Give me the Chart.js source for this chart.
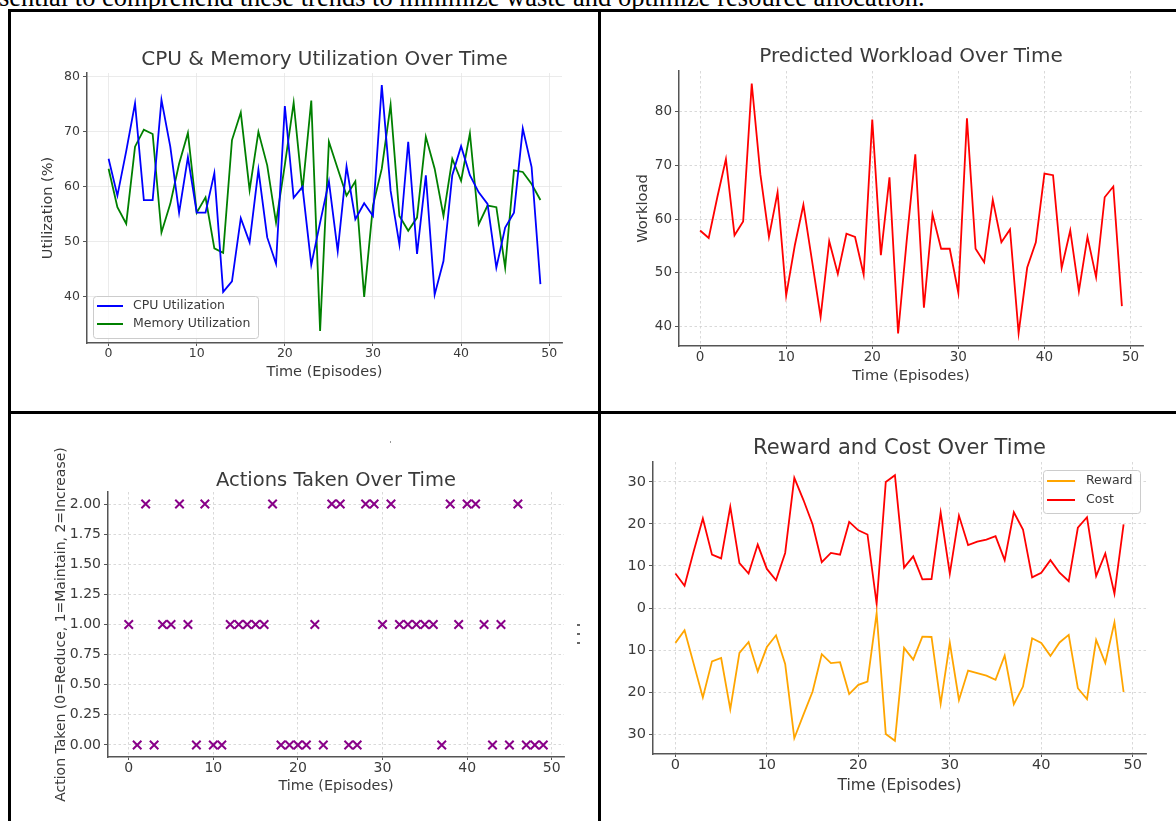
<!DOCTYPE html>
<html><head><meta charset="utf-8">
<script src="https://cdn.jsdelivr.net/npm/chart.js@4/dist/chart.umd.min.js"></script>
<style>
html,body{margin:0;padding:0;background:#fff;overflow:hidden;width:1176px;height:821px;}
#page{position:relative;width:1176px;height:821px;overflow:hidden;background:#fff;}
.intro{position:absolute;left:-1px;top:-18px;font-family:"Liberation Serif","Times New Roman",serif;font-size:26.5px;line-height:30px;white-space:nowrap;color:#000;}
.rule{position:absolute;background:#000;}
.dot{position:absolute;background:#666;width:2px;height:2px;}
canvas{position:absolute;}
</style></head><body>
<div id="page">
<div class="intro">sential to comprehend these trends to minimize waste and optimize resource allocation.</div>
<canvas id="c1" width="586" height="399" style="left:12px;top:12px"></canvas>
<canvas id="c2" width="575" height="399" style="left:601px;top:12px"></canvas>
<canvas id="c3" width="586" height="407" style="left:12px;top:414px"></canvas>
<canvas id="c4" width="575" height="407" style="left:601px;top:414px"></canvas>
<div class="dot" style="left:577px;top:624px;width:3px"></div>
<div class="dot" style="left:577px;top:633px;width:3px"></div>
<div class="dot" style="left:577px;top:642px;width:3px"></div>
<div class="dot" style="left:390px;top:441px;width:1px;height:2px;background:#999"></div>
<div class="rule" style="left:8px;top:9px;width:1190px;height:3px"></div>
<div class="rule" style="left:8px;top:9px;width:3px;height:830px"></div>
<div class="rule" style="left:598px;top:9px;width:3px;height:830px"></div>
<div class="rule" style="left:8px;top:411px;width:1190px;height:3px"></div>
</div>
<script>
// ---------- data ----------
const episodes = [0,1,2,3,4,5,6,7,8,9,10,11,12,13,14,15,16,17,18,19,20,21,22,23,24,25,26,27,28,29,30,31,32,33,34,35,36,37,38,39,40,41,42,43,44,45,46,47,48,49];
const cpuUtil = [65.1,58.4,66.5,75.2,57.6,57.6,75.8,67.3,55.3,65.4,55.3,55.3,62.5,40.9,42.8,54.3,49.9,63.1,50.8,46.0,74.7,58.0,60.0,45.8,53.5,61.0,48.3,63.7,54.1,57.0,54.7,78.5,59.3,49.5,68.2,47.8,62.1,40.4,46.5,62.1,67.4,62.1,59.0,56.9,45.3,52.6,55.3,70.6,63.6,42.3];
const memUtil = [63.3,56.3,53.3,67.3,70.4,69.6,51.7,56.9,64.2,69.8,55.3,58.1,48.8,48.0,68.5,73.5,59.4,70.0,63.9,53.5,64.0,75.3,59.3,75.7,33.8,68.2,63.3,58.4,61.0,40.0,56.6,63.3,74.9,54.7,52.0,54.4,69.1,63.3,54.7,65.1,61.1,69.7,53.2,56.6,56.3,45.3,63.0,62.7,60.5,57.6];
const workload = [57.9,56.5,64.1,71.2,57.0,59.6,85.3,68.4,56.7,65.0,45.8,55.1,62.7,52.3,41.8,55.9,49.8,57.3,56.7,49.7,78.6,53.3,67.8,38.7,56.0,72.1,43.5,60.9,54.5,54.5,46.3,78.8,54.5,52.0,63.6,55.7,58.1,38.8,51.0,55.7,68.5,68.2,50.9,57.9,46.6,56.7,49.2,64.1,66.1,43.8];
const actions = [1,0,2,0,1,1,2,1,0,2,0,0,1,1,1,1,1,2,0,0,0,0,1,0,2,2,0,0,2,2,1,2,1,1,1,1,1,0,2,1,2,2,1,0,1,0,2,0,0,0];
const reward = [-8.3,-5.3,-13.3,-21.3,-12.7,-11.9,-24.1,-10.7,-8.1,-15.1,-9.3,-6.5,-13.3,-31.0,-25.4,-19.9,-11.0,-13.1,-12.9,-20.5,-18.3,-17.5,-1.2,-30.0,-31.6,-9.5,-12.3,-6.8,-6.9,-22.8,-8.3,-21.9,-14.9,-15.5,-16.1,-17.1,-11.3,-22.9,-18.7,-7.2,-8.3,-11.4,-8.2,-6.4,-19.1,-21.7,-7.6,-13.1,-3.4,-20.0];
const cost = [8.2,5.3,13.5,21.3,12.7,11.8,24.1,10.7,8.2,15.1,9.3,6.6,13.1,31.0,25.7,19.9,10.9,13.1,12.7,20.5,18.5,17.5,1.0,30.0,31.6,9.6,12.3,6.8,6.9,22.7,8.2,22.0,15.0,15.8,16.3,17.1,11.4,22.8,18.7,7.3,8.4,11.4,8.4,6.4,19.1,21.6,7.6,13.0,3.4,19.9];

const episodeTicks = [0,10,20,30,40,50];
const utilTicks = [40,50,60,70,80];
const workloadTicks = [40,50,60,70,80];
const actionTicks = [0,0.25,0.5,0.75,1,1.25,1.5,1.75,2];
const rcTicks = [-30,-20,-10,0,10,20,30];
const rcTickLabels = ['30','20','10','0','10','20','30'];

// ---------- helpers ----------
const FONT = "'DejaVu Sans', Verdana, sans-serif";
const TXT = '#3a3a3a';
const pts = ys => episodes.map((e, i) => ({x: e, y: ys[i]}));

const insetLegend = {
  id: 'insetLegend',
  afterDraw(chart, args, o) {
    if (!o || !o.items) return;
    const ctx = chart.ctx, ca = chart.chartArea;
    const left = o.anchor === 'right' ? ca.right - o.dx - o.w : ca.left + o.dx;
    const top = o.vAnchor === 'bottom' ? ca.bottom - o.dy - o.h : ca.top + o.dy;
    ctx.save();
    ctx.fillStyle = 'rgba(255,255,255,0.85)';
    ctx.strokeStyle = '#cccccc';
    ctx.lineWidth = 1;
    ctx.beginPath();
    ctx.roundRect(left + 0.5, top + 0.5, o.w, o.h, 3);
    ctx.fill(); ctx.stroke();
    ctx.font = o.font;
    ctx.textBaseline = 'middle';
    ctx.textAlign = 'left';
    o.items.forEach((it, k) => {
      const y = top + o.rows[k];
      ctx.strokeStyle = it.color; ctx.lineWidth = 2;
      ctx.beginPath(); ctx.moveTo(left + o.l0, y); ctx.lineTo(left + o.l1, y); ctx.stroke();
      ctx.fillStyle = TXT;
      ctx.fillText(it.label, left + o.tx, y);
    });
    ctx.restore();
  }
};

function build(id, s, datasets, xTicks, yTicks, yMin, yMax, extra) {
  const [bl, bt, bw, bh] = s.box;
  const [L, T, R, B] = s.ca;
  const lhT = s.titleSize * 1.2, lhA = s.axisSize * 1.2, lhY = (s.yAxisSize || s.axisSize) * 1.2;
  const tPadTop = s.titleY - bt - lhT / 2;
  const tPadBot = (T - bt) - tPadTop - lhT;
  const padLeft = s.yTitle ? (s.yTitleX - bl - lhY / 2) : 0;
  const yW = (L - bl) - padLeft;
  const padRight = (bl + bw) - R;
  const xBottom = s.xTitleY - bt + lhA / 2;
  const xH = xBottom - (B - bt);
  const padBottom = bh - xBottom;
  const border = {display: true, color: '#555', width: 1.5};
  if (s.dash) border.dash = [2.5, 2.5];
  const cfg = {
    type: 'line',
    data: {datasets},
    options: {
      responsive: false, animation: false, devicePixelRatio: 1,
      layout: {padding: {left: padLeft, right: padRight, top: 0, bottom: padBottom}},
      plugins: {
        legend: {display: false}, tooltip: {enabled: false},
        title: {display: true, fullSize: false, text: s.title, color: TXT, font: {family: FONT, size: s.titleSize, weight: 'normal', lineHeight: 1.2}, padding: {top: tPadTop, bottom: tPadBot}},
        insetLegend: s.legend || false
      },
      scales: {
        x: {
          type: 'linear', min: -2.45, max: 51.45,
          afterBuildTicks: sc => { sc.ticks = xTicks.map(v => ({value: v})); },
          afterFit: sc => { sc.height = xH; },
          grid: {color: s.gridColor, lineWidth: 0.8, tickLength: s.xTickLen, tickColor: '#555', tickWidth: 1},
          border: Object.assign({}, border),
          ticks: {color: TXT, font: {family: FONT, size: s.tickSize}, padding: s.xTickPad, maxRotation: 0, autoSkip: false, callback: v => String(v)},
          title: {display: true, text: 'Time (Episodes)', color: TXT, font: {family: FONT, size: s.axisSize, lineHeight: 1.2}, padding: 0}
        },
        y: {
          type: 'linear', min: yMin, max: yMax,
          afterBuildTicks: sc => { sc.ticks = yTicks.map(v => ({value: v})); },
          afterFit: sc => { sc.width = yW; },
          grid: {color: s.gridColor, lineWidth: 0.8, tickLength: 4, tickColor: '#555', tickWidth: 1},
          border: Object.assign({}, border),
          ticks: Object.assign({color: TXT, font: {family: FONT, size: s.tickSize}, padding: 3, autoSkip: false}, extra || {}),
          title: {display: !!s.yTitle, text: s.yTitle || '', color: TXT, font: {family: FONT, size: (s.yAxisSize || s.axisSize), lineHeight: 1.2}, padding: 0}
        }
      }
    },
    plugins: [insetLegend]
  };
  return new Chart(document.getElementById(id), cfg);
}

const lineDs = (label, ys, color) => ({label, data: pts(ys), borderColor: color, backgroundColor: color, borderWidth: 1.8, pointRadius: 0, tension: 0, fill: false});

// ---------- chart 1 ----------
build('c1', {
  box: [12, 12, 586, 399], ca: [87, 73, 562, 343],
  title: 'CPU & Memory Utilization Over Time', titleY: 60, titleSize: 20,
  yTitle: 'Utilization (%)', yTitleX: 48, axisSize: 14.5, xTitleY: 372,
  tickSize: 12.5, xTickLen: 3, xTickPad: 0, gridColor: '#e6e6e6', dash: false,
  legend: {anchor: 'left', vAnchor: 'bottom', dx: 6, dy: 5, w: 165, h: 42, rows: [10, 28], l0: 4, l1: 30, tx: 40,
    font: "12.5px 'DejaVu Sans', sans-serif",
    items: [{label: 'CPU Utilization', color: '#0000ff'}, {label: 'Memory Utilization', color: '#008000'}]}
}, [lineDs('CPU Utilization', cpuUtil, '#0000ff'), lineDs('Memory Utilization', memUtil, '#008000')],
 episodeTicks, utilTicks, 31.6, 80.7);

// ---------- chart 2 ----------
build('c2', {
  box: [601, 12, 575, 399], ca: [679, 71, 1143, 346],
  title: 'Predicted Workload Over Time', titleY: 56.5, titleSize: 20,
  yTitle: 'Workload', yTitleX: 643, axisSize: 14.7, xTitleY: 376,
  tickSize: 13.5, xTickLen: 3, xTickPad: 0, gridColor: '#cfcfcf', dash: true
}, [lineDs('Workload', workload, '#ff0000')], episodeTicks, workloadTicks, 36.37, 87.63);

// ---------- chart 3 ----------
build('c3', {
  box: [12, 414, 586, 407], ca: [108, 492, 564, 757],
  title: 'Actions Taken Over Time', titleY: 480.5, titleSize: 19.5,
  yTitle: 'Action Taken (0=Reduce, 1=Maintain, 2=Increase)', yTitleX: 61, axisSize: 14.4, yAxisSize: 14, xTitleY: 786,
  tickSize: 14, xTickLen: 3, xTickPad: 0, gridColor: '#cfcfcf', dash: true
}, [{label: 'Action', data: pts(actions), showLine: false, pointStyle: 'crossRot', pointRadius: 6, borderWidth: 2, borderColor: '#880088', backgroundColor: '#880088'}],
 episodeTicks, actionTicks, -0.1, 2.1, {callback: v => Number(v).toFixed(2)});

// ---------- chart 4 ----------
build('c4', {
  box: [601, 414, 575, 407], ca: [653, 462, 1146, 754],
  title: 'Reward and Cost Over Time', titleY: 449, titleSize: 21,
  yTitle: null, axisSize: 15.5, xTitleY: 786,
  tickSize: 14.5, xTickLen: 3, xTickPad: 0, gridColor: '#cfcfcf', dash: true,
  legend: {anchor: 'right', vAnchor: 'top', dx: 6, dy: 8, w: 97, h: 43, rows: [11, 30], l0: 4, l1: 32, tx: 43,
    font: "12.5px 'DejaVu Sans', sans-serif",
    items: [{label: 'Reward', color: '#ffa500'}, {label: 'Cost', color: '#ff0000'}]}
}, [lineDs('Reward', reward, '#ffa500'), lineDs('Cost', cost, '#ff0000')],
 episodeTicks, rcTicks, -34.76, 34.76, {callback: v => rcTickLabels[rcTicks.indexOf(v)] ?? ''});
</script>
</body></html>
